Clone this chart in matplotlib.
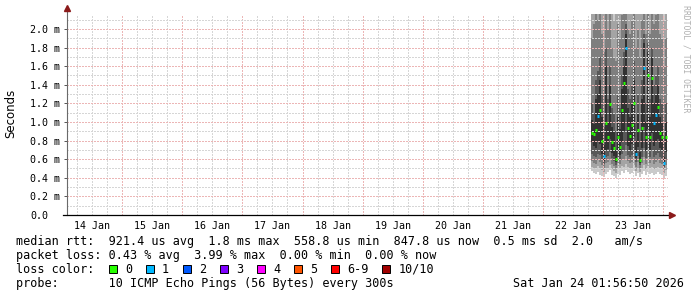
import matplotlib
matplotlib.use("Agg")
import matplotlib.pyplot as plt
import matplotlib.dates as mdates
from matplotlib.ticker import FixedLocator, FuncFormatter
from matplotlib.patches import Rectangle
import numpy as np
import pandas as pd

plt.rcParams["font.family"] = ["DejaVu Sans Mono"]

# Smoke data: one column every 48 minutes, 10 sorted pings (ms) per column
col_times = pd.date_range("2026-01-22 19:12", periods=38, freq="48min")
median = [0.88, 0.87, 0.91, 1.06, 1.13, 0.80, 0.63, 0.99, 0.84, 1.19,
          0.78, 0.72, 0.60, 0.84, 0.73, 1.13, 1.42, 1.80, 0.93, 0.85,
          0.97, 1.20, 0.66, 0.91, 0.59, 0.93, 1.58, 0.84, 1.50, 0.84,
          1.47, 0.99, 1.07, 1.16, 0.88, 0.84, 0.56, 0.84]
loss = [0, 0, 0, 1, 0, 0, 1, 0, 0, 0,
        0, 0, 0, 0, 0, 0, 0, 1, 0, 0,
        0, 0, 1, 0, 0, 0, 1, 0, 0, 0,
        0, 1, 1, 0, 0, 0, 1, 0]
ping1 = [0.47, 0.45, 0.44, 0.46, 0.43, 0.42, 0.41, 0.44, 0.46, 0.48,
         0.43, 0.42, 0.40, 0.44, 0.43, 0.47, 0.45, 0.48, 0.46, 0.44,
         0.45, 0.47, 0.42, 0.45, 0.41, 0.44, 0.47, 0.43, 0.46, 0.44,
         0.45, 0.43, 0.44, 0.46, 0.44, 0.43, 0.40, 0.42]
ping2 = [0.52, 0.50, 0.49, 0.53, 0.50, 0.48, 0.46, 0.50, 0.51, 0.54,
         0.49, 0.47, 0.45, 0.50, 0.49, 0.53, 0.52, 0.55, 0.52, 0.50,
         0.51, 0.54, 0.47, 0.51, 0.46, 0.50, 0.54, 0.49, 0.53, 0.50,
         0.52, 0.49, 0.50, 0.52, 0.50, 0.49, 0.45, 0.48]
ping3 = [0.58, 0.56, 0.55, 0.59, 0.57, 0.54, 0.51, 0.56, 0.57, 0.60,
         0.55, 0.53, 0.50, 0.56, 0.55, 0.59, 0.60, 0.63, 0.58, 0.56,
         0.57, 0.61, 0.52, 0.57, 0.51, 0.56, 0.62, 0.55, 0.61, 0.56,
         0.60, 0.55, 0.57, 0.59, 0.56, 0.55, 0.49, 0.54]
ping4 = [0.66, 0.63, 0.62, 0.66, 0.64, 0.60, 0.55, 0.62, 0.63, 0.68,
         0.61, 0.58, 0.54, 0.62, 0.60, 0.66, 0.70, 0.75, 0.64, 0.62,
         0.64, 0.69, 0.57, 0.63, 0.54, 0.62, 0.72, 0.61, 0.71, 0.62,
         0.70, 0.62, 0.64, 0.67, 0.62, 0.61, 0.52, 0.60]
ping5 = [0.78, 0.74, 0.72, 0.80, 0.76, 0.66, 0.58, 0.70, 0.71, 0.82,
         0.67, 0.63, 0.57, 0.70, 0.64, 0.78, 0.90, 1.10, 0.74, 0.70,
         0.76, 0.84, 0.61, 0.73, 0.56, 0.72, 0.95, 0.69, 0.92, 0.70,
         0.88, 0.74, 0.78, 0.82, 0.72, 0.69, 0.54, 0.68]
ping6 = [1.02, 0.98, 1.25, 1.30, 1.45, 1.05, 0.75, 1.60, 1.00, 1.40,
         0.95, 0.90, 0.70, 1.05, 0.92, 1.35, 1.60, 1.95, 1.15, 1.05,
         1.20, 1.45, 0.80, 1.10, 0.68, 1.25, 1.85, 1.00, 1.75, 1.05,
         1.70, 1.20, 1.30, 1.40, 1.05, 1.00, 0.62, 1.00]
ping7 = [1.20, 1.10, 1.45, 1.55, 1.70, 1.30, 0.95, 1.80, 1.25, 1.60,
         1.15, 1.10, 0.90, 1.30, 1.15, 1.50, 1.75, 2.05, 1.35, 1.25,
         1.40, 1.65, 1.00, 1.30, 0.90, 1.45, 1.95, 1.20, 1.85, 1.25,
         1.80, 1.40, 1.50, 1.60, 1.25, 1.20, 0.85, 1.20]
ping8 = [1.90, 2.05, 2.20, 2.10, 2.30, 1.95, 1.75, 2.25, 2.00, 2.20,
         1.80, 1.70, 1.65, 2.05, 1.90, 2.15, 2.30, 2.40, 2.00, 1.95,
         2.10, 2.25, 1.80, 2.00, 1.70, 2.10, 2.35, 1.95, 2.30, 1.95,
         2.30, 2.05, 2.15, 2.20, 1.95, 1.90, 1.60, 1.90]
ping9 = [2.40, 2.30, 2.60, 2.50, 2.70, 2.20, 2.35, 2.50, 2.40, 2.60,
         2.25, 2.10, 2.20, 2.45, 2.30, 2.55, 2.70, 2.80, 2.50, 2.35,
         2.55, 2.65, 2.30, 2.45, 2.20, 2.50, 2.75, 2.40, 2.70, 2.35,
         2.65, 2.45, 2.55, 2.60, 2.40, 2.30, 2.10, 2.35]
ping10 = [2.90, 2.80, 3.00, 2.90, 3.10, 2.70, 2.80, 3.00, 2.90, 3.00,
          2.80, 2.60, 2.70, 2.90, 2.80, 3.00, 3.10, 3.20, 2.90, 2.80,
          3.00, 3.00, 2.80, 2.90, 2.70, 2.90, 3.10, 2.90, 3.10, 2.80,
          3.00, 2.90, 3.00, 3.00, 2.90, 2.80, 2.60, 2.80]

loss_labels = ["0", "1", "2", "3", "4", "5", "6-9", "10/10"]
loss_colors = ["#26ff00", "#00b8ff", "#0059ff", "#7e00ff",
               "#ff00ff", "#ff5500", "#ff0000", "#a10000"]

stats_lines = [
    "median rtt:  921.4 us avg  1.8 ms max  558.8 us min  847.8 us now  0.5 ms sd  2.0   am/s",
    "packet loss: 0.43 % avg  3.99 % max  0.00 % min  0.00 % now",
    "loss color:",
    "probe:       10 ICMP Echo Pings (56 Bytes) every 300s",
]
stamp = "Sat Jan 24 01:56:50 2026"

W, H = 697, 297
FS = 8.5      # legend text
TFS = 7.2     # tick labels
fig = plt.figure(figsize=(W / 100, H / 100), dpi=100)
ax = fig.add_axes([67 / W, 82 / H, 601 / W, 201 / H])

x = mdates.date2num(col_times.to_pydatetime())
step = 48 / (24 * 60)

# smoke bands, outer (light) to inner (dark)
bands = [(ping1, ping10, "#cacaca"), (ping2, ping9, "#a4a4a4"),
         (ping3, ping8, "#7e7e7e"), (ping4, ping7, "#585858"),
         (ping5, ping6, "#323232")]
for lo, hi, col in bands:
    lo = np.array(lo)
    hi = np.array(hi)
    ax.bar(x, hi - lo, bottom=lo, width=step, align="edge", color=col,
           linewidth=0, zorder=1)

ax.hlines(median, x, x + step, colors=[loss_colors[l] for l in loss],
          linewidth=2.2, zorder=4)

ax.set_xlim(mdates.date2num(pd.Timestamp("2026-01-14 01:56:50")),
            mdates.date2num(pd.Timestamp("2026-01-24 01:56:50")))
ax.set_ylim(0, 2.16)

# grid
ax.xaxis.set_major_locator(mdates.DayLocator())
ax.xaxis.set_minor_locator(mdates.HourLocator(byhour=[6, 12, 18]))
ax.xaxis.set_major_formatter(FuncFormatter(lambda v, p: ""))


def day_label(v, p):
    if round((v % 1) * 24) == 12:
        return mdates.num2date(v).strftime("%d %b")
    return ""


ax.xaxis.set_minor_formatter(FuncFormatter(day_label))
ax.yaxis.set_major_locator(FixedLocator(np.arange(0, 2.01, 0.2)))
ax.yaxis.set_minor_locator(FixedLocator(np.arange(0.1, 2.16, 0.2)))
ax.yaxis.set_major_formatter(FuncFormatter(lambda v, p: "0.0" if v == 0 else f"{v:.1f} m"))

ax.set_axisbelow(False)
ax.grid(which="major", color="#ecb6b6", linestyle=(0, (2, 2)), linewidth=0.72,
        antialiased=False)
ax.grid(which="minor", color="#d6d6d6", linestyle=(0, (2, 2)), linewidth=0.72,
        antialiased=False)

ax.tick_params(axis="x", which="both", length=0, pad=4.0, labelsize=TFS)
ax.tick_params(axis="y", which="major", length=2.2, width=0.7, color="#555555",
               direction="out", pad=24.5, labelsize=TFS)
ax.tick_params(axis="y", which="minor", length=0)
for lbl in ax.get_yticklabels():
    lbl.set_horizontalalignment("left")

for s in ax.spines.values():
    s.set_visible(False)

# axes with arrow heads
top = 1 + 6 / 201
ax.plot([0, 0], [0, top], transform=ax.transAxes, color="#6a6a6a", lw=0.8,
        clip_on=False, zorder=5)
ax.plot([0], [top], marker="^", ms=4.5, color="#8b1a1a", transform=ax.transAxes,
        clip_on=False, zorder=6)
right = 1 + 4 / 601
ax.plot([-4 / 601, right], [0, 0], transform=ax.transAxes, color="black", lw=0.9,
        clip_on=False, zorder=5)
ax.plot([right], [0], marker=">", ms=4.5, color="#8b1a1a", transform=ax.transAxes,
        clip_on=False, zorder=6)

fig.text(11 / W, 1 - 113 / H, "Seconds", rotation=90, ha="center", va="center",
         fontsize=FS, family="DejaVu Sans")
fig.text(686 / W, 1 - 5 / H, "RRDTOOL / TOBI OETIKER", rotation=270, ha="center",
         va="top", fontsize=5.9, color="#b0b0b0")

# legend block
for i, line in enumerate(stats_lines):
    fig.text(16 / W, 1 - (241.5 + 14 * i) / H, line, ha="left", va="center",
             fontsize=FS)
fig.text(513 / W, 1 - 283.5 / H, stamp, ha="left", va="center", fontsize=FS)

sx = 108.5
for lab, col in zip(loss_labels, loss_colors):
    fig.add_artist(Rectangle((sx / W, 1 - 273 / H), 8 / W, 8 / H,
                             transform=fig.transFigure, facecolor=col,
                             edgecolor="black", linewidth=0.7))
    fig.text((sx + 16.5) / W, 1 - 269.5 / H, lab, ha="left", va="center", fontsize=FS)
    sx += 37 + 7.1 * (len(lab) - 1)

fig.savefig("out.png", dpi=100)
